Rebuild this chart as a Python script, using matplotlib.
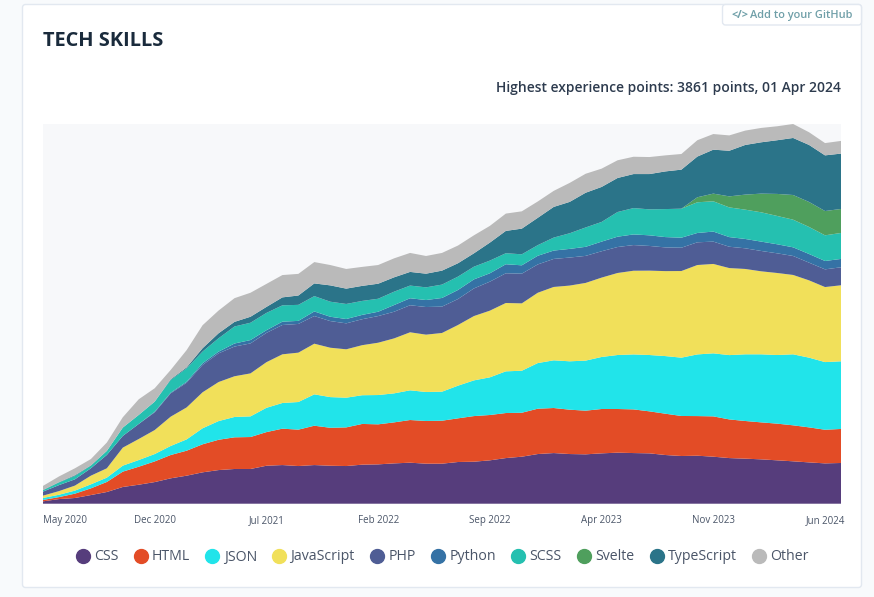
import matplotlib
matplotlib.use('Agg')
import matplotlib.pyplot as plt
from matplotlib.lines import Line2D
from matplotlib.patches import FancyBboxPatch

plt.rcParams['font.family'] = ['Open Sans', 'DejaVu Sans']

# monthly points, May 2020 .. Jul 2024
css = [24, 47, 58, 88, 119, 170, 193, 220, 258, 285, 319, 342, 353, 353, 386, 393, 383,
       393, 386, 383, 397, 400, 410, 417, 407, 407, 424, 427, 441, 464, 478, 505, 515,
       505, 502, 512, 519, 515, 512, 495, 485, 488, 478, 464, 458, 451, 441, 431, 420, 410, 414]
html = [14, 20, 44, 68, 102, 156, 183, 210, 237, 254, 285, 308, 322, 325, 342, 370, 370,
        400, 386, 393, 414, 407, 417, 434, 434, 437, 444, 464, 461, 458, 447, 461, 458,
        451, 444, 451, 444, 444, 427, 420, 407, 403, 410, 393, 383, 376, 373, 366, 356, 342, 346]
json_ = [20, 24, 31, 41, 44, 61, 68, 75, 92, 115, 163, 190, 207, 210, 247, 261, 281,
         319, 312, 302, 292, 298, 295, 302, 295, 295, 332, 363, 383, 424, 427, 464, 485,
         492, 509, 529, 549, 559, 573, 586, 593, 627, 641, 654, 678, 692, 698, 722, 709, 688, 688]
javascript = [24, 37, 51, 88, 95, 183, 214, 244, 298, 325, 366, 397, 414, 437, 464, 495, 502,
              515, 502, 492, 509, 532, 559, 590, 583, 597, 617, 654, 678, 695, 685, 715, 746,
              770, 790, 807, 834, 851, 858, 864, 881, 909, 909, 885, 868, 844, 834, 807, 786, 763, 773]
php = [41, 61, 64, 75, 136, 119, 153, 180, 237, 251, 278, 292, 302, 305, 298, 298, 292,
       281, 271, 264, 264, 271, 271, 275, 281, 268, 264, 281, 295, 302, 302, 288, 285,
       285, 275, 268, 264, 261, 251, 241, 237, 231, 227, 217, 210, 207, 200, 193, 180, 180, 183]
python = [0, 0, 0, 0, 0, 0, 0, 7, 7, 10, 17, 17, 31, 34, 27, 34, 31,
          47, 44, 44, 44, 44, 68, 71, 71, 88, 92, 92, 85, 92, 85, 88, 85,
          88, 92, 98, 105, 108, 108, 105, 102, 95, 102, 98, 95, 95, 92, 88, 88, 85, 85]
scss = [14, 27, 34, 27, 41, 85, 92, 102, 129, 136, 119, 136, 173, 176, 176, 166, 163,
        156, 153, 153, 142, 132, 136, 129, 129, 136, 136, 129, 129, 112, 112, 108, 132,
        159, 197, 200, 251, 268, 264, 285, 295, 312, 308, 302, 298, 298, 288, 281, 275, 261, 264]
svelte = [0, 0, 0, 0, 0, 0, 0, 0, 0, 0, 0, 0, 0, 0, 0, 0, 0,
          0, 0, 0, 0, 0, 0, 0, 0, 0, 0, 0, 0, 0, 0, 0, 0,
          0, 0, 0, 0, 0, 0, 0, 0, 51, 78, 112, 153, 190, 224, 251, 254, 247, 244]
typescript = [3, 3, 7, 3, 0, 0, 0, 0, 7, 10, 34, 51, 47, 61, 61, 81, 95,
              129, 166, 156, 153, 153, 146, 139, 139, 142, 136, 136, 183, 227, 261, 278, 312,
              319, 353, 356, 346, 346, 359, 383, 397, 414, 447, 464, 505, 522, 546, 580, 580, 566, 563]
other = [41, 58, 71, 64, 85, 105, 159, 136, 95, 176, 234, 231, 241, 244, 234, 227, 220,
         217, 207, 200, 193, 190, 193, 193, 180, 180, 180, 183, 170, 176, 176, 166, 163,
         193, 193, 186, 180, 176, 173, 163, 159, 166, 159, 156, 146, 146, 142, 142, 129, 125, 129]

series = [css, html, json_, javascript, php, python, scss, svelte, typescript, other]
names = ['CSS', 'HTML', 'JSON', 'JavaScript', 'PHP', 'Python', 'SCSS', 'Svelte', 'TypeScript', 'Other']
colors = ['#563D7C', '#E34C26', '#21E4EA', '#F1E05A', '#4F5D95',
          '#3572A5', '#25C0B0', '#4F9F5D', '#2B7489', '#BABABA']
tick_pos = [0, 7, 14, 21, 28, 35, 42, 49]
tick_names = ['May 2020', 'Dec 2020', 'Jul 2021', 'Feb 2022', 'Sep 2022', 'Apr 2023', 'Nov 2023', 'Jun 2024']
peak = 3861

W, H = 874, 597
fig = plt.figure(figsize=(W / 100, H / 100), dpi=100, facecolor='#F8FAFC')

# page layer in pixel coordinates
bg = fig.add_axes([0, 0, 1, 1])
bg.set_xlim(0, W)
bg.set_ylim(H, 0)
bg.axis('off')
bg.add_patch(FancyBboxPatch((22.5, 4.5), 839, 583, boxstyle='round,pad=0,rounding_size=3',
                            fc='white', ec='#E2E8F0', lw=1))
bg.add_patch(FancyBboxPatch((722.5, 4.5), 139, 20.5, boxstyle='round,pad=0,rounding_size=3',
                            fc='white', ec='#E2E8F0', lw=1))
bg.text(731, 15.5, '</>', fontsize=7.8, fontweight='bold', color='#6F9FA8', va='center')
bg.text(750, 15.5, 'Add to your GitHub', fontsize=7.9, fontweight='semibold', color='#6F9FA8', va='center')
bg.text(43, 41, 'TECH SKILLS', fontsize=14.4, fontweight='bold', color='#1A2B3C', va='center')
bg.text(841, 88, 'Highest experience points: 3861 points, 01 Apr 2024', fontsize=10.03,
        fontweight='semibold', color='#2D3B4E', ha='right', va='center')

ax = fig.add_axes([43 / W, 1 - 503.7 / H, 798 / W, 379.7 / H], facecolor='#F7F8FA')
ax.stackplot(range(len(css)), series, colors=colors, linewidth=0)
ax.set_xlim(0, 50)
ax.set_ylim(0, peak)
ax.set_yticks([])
for s in ax.spines.values():
    s.set_visible(False)
ax.set_xticks(tick_pos)
ax.set_xticklabels(tick_names, fontsize=7, color='#4A5568')
ax.tick_params(axis='x', length=0, pad=8)
ax.get_xticklabels()[0].set_ha('left')

handles = [Line2D([], [], ls='', marker='o', ms=10, color=c) for c in colors]
fig.legend(handles, names, loc='center', bbox_to_anchor=(440.5 / W, 1 - 557 / H), ncol=10, frameon=False,
           fontsize=10.2, labelcolor='#4A5568', handletextpad=0.05, columnspacing=0.82, handlelength=1.5)

fig.savefig('out.png', dpi=100, facecolor=fig.get_facecolor())
